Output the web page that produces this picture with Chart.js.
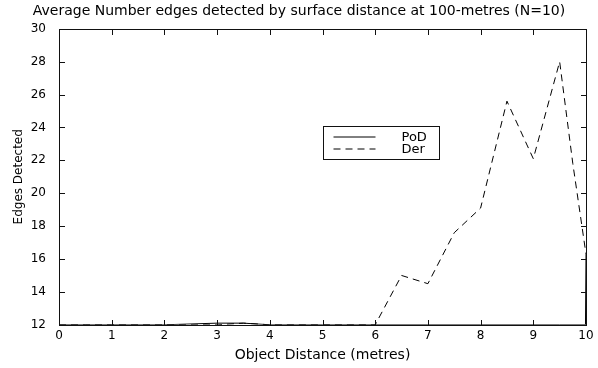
<!DOCTYPE html>
<html>
<head>
<meta charset="utf-8">
<script src="https://cdn.jsdelivr.net/npm/chart.js@4"></script>
<style>
  html, body { margin: 0; padding: 0; background: #fff; }
  #wrap { width: 598px; height: 368px; }
</style>
</head>
<body>
<div id="wrap"><canvas id="edgesChart" width="598" height="368"></canvas></div>
<script>
// values
var derX = [0, 0.5, 1, 1.5, 2, 2.5, 3, 3.5, 4, 4.5, 5, 5.5, 6, 6.5, 7, 7.5, 8, 8.5, 9, 9.5, 9.75, 10];
var derY = [12, 12, 12, 12, 12, 12, 12, 12.1, 12, 12, 12, 12, 12, 15, 14.5, 17.6, 19.1, 25.6, 22.1, 28, 21.8, 16.3];
var podX = [0, 1, 2, 3, 3.5, 4, 5, 6, 7, 8, 9, 9.5, 9.99, 10];
var podY = [12, 12, 12, 12.1, 12.1, 12, 12, 12, 12, 12, 12, 12, 12, 16.3];
var xTicks = [0, 1, 2, 3, 4, 5, 6, 7, 8, 9, 10];
var yTicks = [12, 14, 16, 18, 20, 22, 24, 26, 28, 30];

function pts(xs, ys) {
    return xs.map(function(x, i) { return { x: x, y: ys[i] }; });
}

var FONT = '"DejaVu Sans", Verdana, sans-serif';

// matlab style frame: box all round, ticks pointing inwards, legend box in the plot
var framePlugin = {
    id: 'frame',
    afterDraw: function(chart) {
        var c = chart.ctx, a = chart.chartArea;
        var xs = chart.scales.x, ys = chart.scales.y;
        var L = Math.round(a.left), R = Math.round(a.right);
        var T = Math.round(a.top), B = Math.round(a.bottom);
        c.save();
        c.strokeStyle = '#111';
        c.lineWidth = 1;
        c.setLineDash([]);
        c.strokeRect(L + 0.5, T + 0.5, R - L, B - T);

        // inward ticks
        c.fillStyle = '#111';
        xTicks.forEach(function(v) {
            var px = Math.round(xs.getPixelForValue(v));
            c.fillRect(px, B - 5, 1, 6);
            c.fillRect(px, T, 1, 6);
        });
        yTicks.forEach(function(v) {
            var py = Math.round(ys.getPixelForValue(v));
            c.fillRect(L, py, 6, 1);
            c.fillRect(R - 5, py, 6, 1);
        });

        // legend
        var bx = 323.5, by = 126.5, bw = 116, bh = 33;
        c.fillStyle = '#fff';
        c.fillRect(bx, by, bw, bh);
        c.strokeRect(bx, by, bw, bh);
        c.font = '13px ' + FONT;
        c.fillStyle = '#000';
        c.textBaseline = 'middle';
        chart.data.datasets.forEach(function(ds, k) {
            var ly = by + 10 + k * 12;
            c.strokeStyle = '#000';
            c.setLineDash(ds.borderDash || []);
            c.beginPath();
            c.moveTo(bx + 10, ly + 0.5);
            c.lineTo(bx + 52, ly + 0.5);
            c.stroke();
            c.setLineDash([]);
            c.fillText(ds.label, bx + 78, ly + 1);
        });
        c.restore();
    }
};

var ctx = document.getElementById('edgesChart').getContext('2d');
var edgesChart = new Chart(ctx, {
    type: 'line',
    data: {
        datasets: [{
            label: 'PoD',
            data: pts(podX, podY),
            borderColor: '#000',
            borderWidth: 1,
            pointRadius: 0,
            tension: 0,
            fill: false
        }, {
            label: 'Der',
            data: pts(derX, derY),
            borderColor: '#000',
            borderWidth: 1,
            borderDash: [7, 5],
            pointRadius: 0,
            tension: 0,
            fill: false
        }]
    },
    options: {
        responsive: false,
        animation: false,
        events: [],
        layout: { padding: { left: 12, right: 12, top: 0, bottom: 4 } },
        plugins: {
            legend: { display: false },
            tooltip: { enabled: false },
            title: {
                display: true,
                text: 'Average Number edges detected by surface distance at 100-metres (N=10)',
                color: '#000',
                font: { family: FONT, size: 14, weight: 'normal' },
                padding: { top: 3, bottom: 9 }
            }
        },
        scales: {
            x: {
                type: 'linear',
                min: 0,
                max: 10,
                afterBuildTicks: function(s) { s.ticks = xTicks.map(function(v) { return { value: v }; }); },
                grid: { display: false, drawTicks: false },
                border: { display: false },
                ticks: { color: '#000', font: { family: FONT, size: 12 }, padding: 4, maxRotation: 0 },
                title: {
                    display: true,
                    text: 'Object Distance (metres)',
                    color: '#000',
                    font: { family: FONT, size: 14 },
                    padding: { top: 0, bottom: 0 }
                }
            },
            y: {
                min: 12,
                max: 30,
                afterBuildTicks: function(s) { s.ticks = yTicks.map(function(v) { return { value: v }; }); },
                afterFit: function(s) { s.width = 47; },
                grid: { display: false, drawTicks: false },
                border: { display: false },
                ticks: { color: '#000', font: { family: FONT, size: 12 }, padding: 13 },
                title: {
                    display: true,
                    text: 'Edges Detected',
                    color: '#000',
                    font: { family: FONT, size: 12 },
                    padding: { top: 0, bottom: 0 }
                }
            }
        }
    },
    plugins: [framePlugin]
});
</script>
</body>
</html>
